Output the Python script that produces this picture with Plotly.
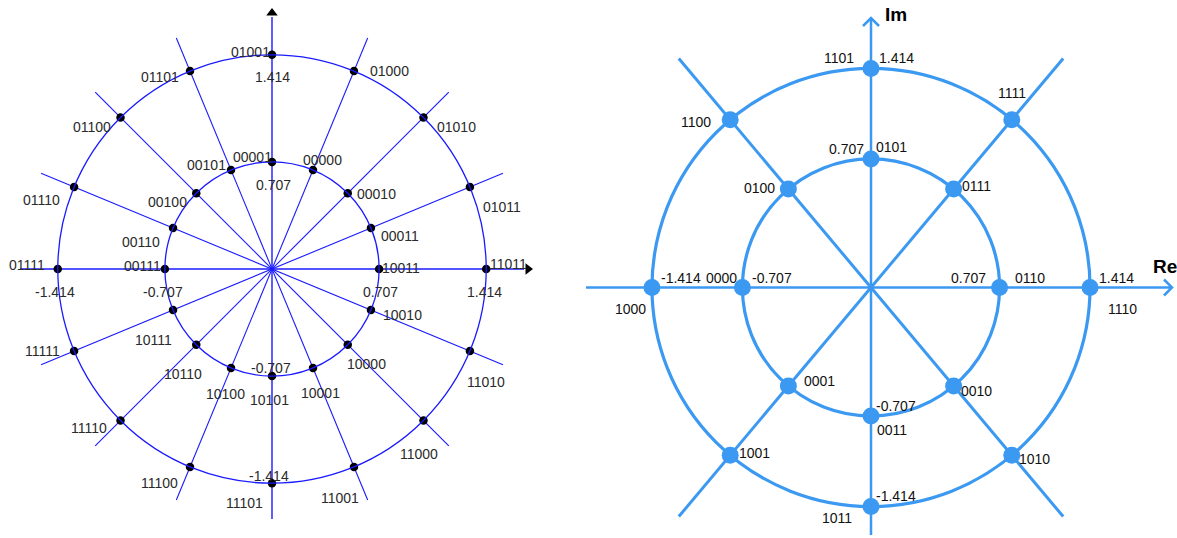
import numpy as np
import plotly.graph_objects as go

# ---------------- data: left (32-point constellation) ----------------
L_RADII = [0.707, 1.414]
L_ANGLES = [0, 22.5, 45, 67.5, 90, 112.5, 135, 157.5,
            180, 202.5, 225, 247.5, 270, 292.5, 315, 337.5]
L_INNER_LABELS = ["10011", "00011", "00010", "00000", "00001", "00101", "00100", "00110",
                  "00111", "10111", "10110", "10100", "10101", "10001", "10000", "10010"]
L_OUTER_LABELS = ["11011", "01011", "01010", "01000", "01001", "01101", "01100", "01110",
                  "01111", "11111", "11110", "11100", "11101", "11001", "11000", "11010"]
L_TICKS = [-1.414, -0.707, 0.707, 1.414]
L_TICK_TEXT = ["-1.414", "-0.707", "0.707", "1.414"]

# ---------------- data: right (16-point constellation) ----------------
R_RADII = [0.83, 1.414]          # ring radii as drawn
R_RING_TEXT = ["0.707", "1.414"]  # ring values as labelled
R_ANGLES = [0, 50, 90, 130, 180, 230, 270, 310]
R_INNER_LABELS = ["0110", "0111", "0101", "0100", "0000", "0001", "0011", "0010"]
R_OUTER_LABELS = ["1110", "1111", "1101", "1100", "1000", "1001", "1011", "1010"]

# ---------------- layout constants ----------------
W, H = 1177, 538
SPLIT = 575
L_CX, L_CY, L_S = 272, 269, 151.5
R_CX, R_CY, R_S = 871, 287.5, 154.9

L_BLUE = "#1a1aff"
R_BLUE = "#3b99f2"
L_TXT = "#2a2a2a"
R_TXT = "#111111"

# label offsets in pixels (dx right, dy down)
L_IN_OFF = [(22, -1), (29, 8), (29, 1), (10, -10), (-20, -5), (-25, -5), (-29, 9), (-32, 14),
            (-22, -3), (-20, 30), (-13, 29), (-6, 26), (-3, 24), (8, 25), (19, 19), (32, 5)]
L_OUT_OFF = [(22, -5), (32, 20), (33, 9), (36, 0), (-22, -3), (-30, 6), (-29, 9), (-33, 13),
             (-31, -4), (-32, 0), (-32, 8), (-31, 16), (-28, 20), (-14, 31), (-4, 34), (16, 31)]
L_XTICK_OFF = [(-3, 23), (-2, 23), (1, 23), (-2, 23)]
L_YTICK_OFF = [(-3, -7), (-1, -8), (1, 23), (0, 22)]

R_IN_OFF = [(30, -10), (23, -3), (20, -12), (-29, -1), (-21, -10), (31, -5), (21, 14), (23, 5)]
R_OUT_OFF = [(32, 21), (0, -27), (-32, -10), (-34, 2), (-21, 21), (24, -2), (-34, 11), (23, 4)]
R_XTICK_OFF = {"-o": (29, -10), "-i": (30, -10), "+i": (-31, -10), "+o": (26, -10)}
R_YTICK_OFF = {"-o": (25, -11), "-i": (25, -10), "+i": (-25, -10), "+o": (25, -10)}

fig = go.Figure()
shapes = []
annotations = []


def ann(x, y, text, xref, yref, off, size=14, color=L_TXT, bold=False):
    annotations.append(dict(
        x=x, y=y, xref=xref, yref=yref, text=("<b>%s</b>" % text) if bold else text,
        showarrow=False, xanchor="center", yanchor="middle",
        xshift=off[0], yshift=-off[1],
        font=dict(family="Liberation Sans, Arial, sans-serif", size=size, color=color)))


# ================= LEFT =================
LL = 250 / L_S  # radial line half-length
for a in L_ANGLES[1:8]:
    if a == 90:
        continue
    t = np.deg2rad(a)
    fig.add_trace(go.Scatter(x=[-LL * np.cos(t), LL * np.cos(t)], y=[-LL * np.sin(t), LL * np.sin(t)],
                             mode="lines", line=dict(color=L_BLUE, width=1.1),
                             xaxis="x", yaxis="y", hoverinfo="skip", showlegend=False))
# axes
fig.add_trace(go.Scatter(x=[-252 / L_S, 252 / L_S], y=[0, 0], mode="lines",
                         line=dict(color=L_BLUE, width=1.4), xaxis="x", yaxis="y",
                         hoverinfo="skip", showlegend=False))
fig.add_trace(go.Scatter(x=[0, 0], y=[-250 / L_S, 252 / L_S], mode="lines",
                         line=dict(color=L_BLUE, width=1.4), xaxis="x", yaxis="y",
                         hoverinfo="skip", showlegend=False))
fig.add_trace(go.Scatter(x=[0, 256 / L_S], y=[256 / L_S, 0], mode="markers",
                         marker=dict(symbol=["triangle-up", "triangle-right"], size=10, color="black"),
                         xaxis="x", yaxis="y", hoverinfo="skip", showlegend=False))
# rings
for r in L_RADII:
    shapes.append(dict(type="circle", xref="x", yref="y", x0=-r, x1=r, y0=-r, y1=r,
                       line=dict(color=L_BLUE, width=1.3)))
# points
for r, labels, offs in [(L_RADII[0], L_INNER_LABELS, L_IN_OFF), (L_RADII[1], L_OUTER_LABELS, L_OUT_OFF)]:
    t = np.deg2rad(L_ANGLES)
    xs, ys = r * np.cos(t), r * np.sin(t)
    fig.add_trace(go.Scatter(x=xs, y=ys, mode="markers", marker=dict(size=8.5, color="black"),
                             xaxis="x", yaxis="y", hoverinfo="skip", showlegend=False))
    for x, y, lab, off in zip(xs, ys, labels, offs):
        ann(x, y, lab, "x", "y", off)
for v, txt, off in zip(L_TICKS, L_TICK_TEXT, L_XTICK_OFF):
    ann(v, 0, txt, "x", "y", off)
for v, txt, off in zip(L_TICKS, L_TICK_TEXT, L_YTICK_OFF):
    ann(0, v, txt, "x", "y", off)

# ================= RIGHT =================
RL = 299 / R_S
for a in R_ANGLES[1:4]:
    if a == 90:
        continue
    t = np.deg2rad(a)
    fig.add_trace(go.Scatter(x=[-RL * np.cos(t), RL * np.cos(t)], y=[-RL * np.sin(t), RL * np.sin(t)],
                             mode="lines", line=dict(color=R_BLUE, width=3),
                             xaxis="x2", yaxis="y2", hoverinfo="skip", showlegend=False))
x_end = (1172 - R_CX) / R_S
y_end = (R_CY - 18) / R_S
fig.add_trace(go.Scatter(x=[-(R_CX - 586) / R_S, x_end], y=[0, 0], mode="lines",
                         line=dict(color=R_BLUE, width=2.5), xaxis="x2", yaxis="y2",
                         hoverinfo="skip", showlegend=False))
fig.add_trace(go.Scatter(x=[0, 0], y=[-(535 - R_CY) / R_S, y_end], mode="lines",
                         line=dict(color=R_BLUE, width=2.5), xaxis="x2", yaxis="y2",
                         hoverinfo="skip", showlegend=False))
a = 8 / R_S
fig.add_trace(go.Scatter(x=[x_end - a, x_end, x_end - a], y=[a, 0, -a], mode="lines",
                         line=dict(color=R_BLUE, width=2.5), xaxis="x2", yaxis="y2",
                         hoverinfo="skip", showlegend=False))
fig.add_trace(go.Scatter(x=[-a, 0, a], y=[y_end - a, y_end, y_end - a], mode="lines",
                         line=dict(color=R_BLUE, width=2.5), xaxis="x2", yaxis="y2",
                         hoverinfo="skip", showlegend=False))
for r in R_RADII:
    shapes.append(dict(type="circle", xref="x2", yref="y2", x0=-r, x1=r, y0=-r, y1=r,
                       line=dict(color=R_BLUE, width=3.2)))
for r, labels, offs in [(R_RADII[0], R_INNER_LABELS, R_IN_OFF), (R_RADII[1], R_OUTER_LABELS, R_OUT_OFF)]:
    t = np.deg2rad(R_ANGLES)
    xs, ys = r * np.cos(t), r * np.sin(t)
    fig.add_trace(go.Scatter(x=xs, y=ys, mode="markers", marker=dict(size=17, color=R_BLUE),
                             xaxis="x2", yaxis="y2", hoverinfo="skip", showlegend=False))
    for x, y, lab, off in zip(xs, ys, labels, offs):
        ann(x, y, lab, "x2", "y2", off, color=R_TXT)
ring_pos = {"-o": (-R_RADII[1], "-" + R_RING_TEXT[1]), "-i": (-R_RADII[0], "-" + R_RING_TEXT[0]),
            "+i": (R_RADII[0], R_RING_TEXT[0]), "+o": (R_RADII[1], R_RING_TEXT[1])}
for k, (v, txt) in ring_pos.items():
    ann(v, 0, txt, "x2", "y2", R_XTICK_OFF[k], color=R_TXT)
    ann(0, v, txt, "x2", "y2", R_YTICK_OFF[k], color=R_TXT)
ann(x_end, 0, "Re", "x2", "y2", (-7, -21), size=19, color="black", bold=True)
ann(0, y_end, "Im", "x2", "y2", (25, -4), size=19, color="black", bold=True)

ax = dict(visible=False, showgrid=False, zeroline=False, fixedrange=True)
fig.update_layout(
    width=W, height=H, margin=dict(l=0, r=0, t=0, b=0),
    paper_bgcolor="white", plot_bgcolor="white", showlegend=False,
    xaxis=dict(domain=[0, SPLIT / W], range=[-L_CX / L_S, (SPLIT - L_CX) / L_S], **ax),
    yaxis=dict(domain=[0, 1], range=[-(H - L_CY) / L_S, L_CY / L_S], **ax),
    xaxis2=dict(domain=[SPLIT / W, 1], range=[(SPLIT - R_CX) / R_S, (W - R_CX) / R_S], **ax),
    yaxis2=dict(domain=[0, 1], range=[-(H - R_CY) / R_S, R_CY / R_S], **ax),
    shapes=shapes, annotations=annotations,
)
fig.write_html("out.html", config={"displayModeBar": False},
               post_script="document.body.style.margin='0px';document.body.style.overflow='hidden';")
